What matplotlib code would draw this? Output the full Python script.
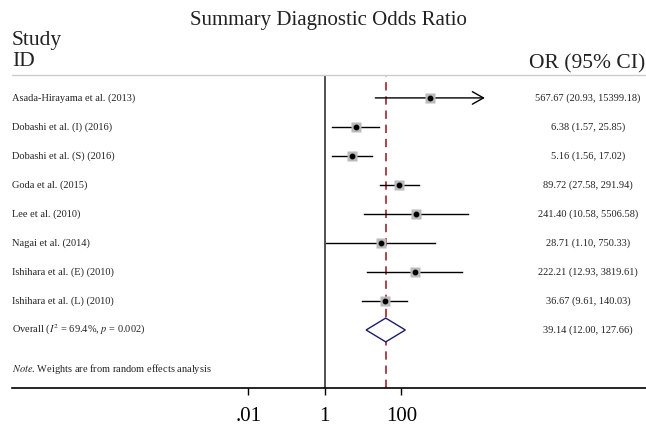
import numpy as np
import matplotlib.pyplot as plt

plt.rcParams['font.family'] = ['Liberation Serif', 'DejaVu Serif']
plt.rcParams['mathtext.fontset'] = 'stix'

studies = ["Asada-Hirayama et al. (2013)", "Dobashi et al. (I) (2016)",
           "Dobashi et al. (S) (2016)", "Goda et al. (2015)", "Lee et al. (2010)",
           "Nagai et al. (2014)", "Ishihara et al. (E) (2010)",
           "Ishihara et al. (L) (2010)"]
odds = [567.67, 6.38, 5.16, 89.72, 241.40, 28.71, 222.21, 36.67]
lower = [20.93, 1.57, 1.56, 27.58, 10.58, 1.10, 12.93, 9.61]
upper = [15399.18, 25.85, 17.02, 291.94, 5506.58, 750.33, 3819.61, 140.03]
pooled = 39.14
pooled_ci = (12.00, 127.66)
tick_vals = [0.01, 1, 100]
tick_labels = [".01", "1", "100"]

fig = plt.figure(figsize=(6.46, 4.25), dpi=100)
ax = fig.add_axes([12 / 646, 37 / 425, 634 / 646, 313 / 425])
ax.set_xscale('log')
ax.set_xlim(np.exp(-18.85), np.exp(19.35))
ax.set_ylim(10.0, -0.79)

# column of OR text, in axes fraction
col_x = (588 - 12) / 634

rows = np.arange(len(studies))
ax.axvline(1, color='#333333', lw=1.2, zorder=1)
ax.axvline(pooled, color='#a3232b', lw=1.2, ls=(0, (5, 3.5)), zorder=1)

for y, name, o, lo, hi in zip(rows, studies, odds, lower, upper):
    if hi > 10000:
        ax.annotate("", xy=(hi, y), xytext=(lo, y),
                    arrowprops=dict(arrowstyle='->,head_length=0.8,head_width=0.45',
                                    color='black', lw=1.0, shrinkA=0, shrinkB=0))
    else:
        ax.plot([lo, hi], [y, y], color='black', lw=1.0, zorder=2)
    ax.plot(o, y, marker='s', ms=7.5, color='#bababa', mec='none', zorder=3)
    ax.plot(o, y, marker='o', ms=3.2, color='black', zorder=4)
    ax.text(0.0, y, name, transform=ax.get_yaxis_transform(), fontsize=7.5,
            va='center', ha='left', color='#222222')
    ax.text(col_x, y, f"{o:.2f} ({lo:.2f}, {hi:.2f})",
            transform=ax.get_yaxis_transform(), fontsize=7.5, va='center',
            ha='center', color='#222222')

# pooled estimate diamond
yo = len(studies)
lo, hi = pooled_ci
ax.fill([lo, pooled, hi, pooled, lo], [yo, yo - 0.41, yo, yo + 0.41, yo],
        facecolor='white', edgecolor='#1c1c6b', lw=1.0, zorder=3)
ax.text(0.0, yo, r"Overall ($I^2$ = 69.4%, $p$ = 0.002)",
        transform=ax.get_yaxis_transform(), fontsize=7.5, va='center',
        ha='left', color='#222222')
ax.text(col_x, yo, f"{pooled:.2f} ({lo:.2f}, {hi:.2f})",
        transform=ax.get_yaxis_transform(), fontsize=7.5, va='center',
        ha='center', color='#222222')
ax.text(0.0, 9.34, r"$\it{Note}$. Weights are from random effects analysis",
        transform=ax.get_yaxis_transform(), fontsize=7.5, va='center',
        ha='left', color='#222222')

ax.set_yticks([])
ax.set_xticks(tick_vals)
ax.set_xticklabels(tick_labels, fontsize=15)
ax.minorticks_off()
ax.tick_params(axis='x', length=5, width=1.0, pad=9)
for s in ['left', 'right']:
    ax.spines[s].set_visible(False)
ax.spines['bottom'].set_linewidth(1.2)
ax.spines['top'].set_color('#cccccc')
ax.spines['top'].set_linewidth(1.0)

fig.text(328 / 646, 1 - 25 / 425, "Summary Diagnostic Odds Ratio", fontsize=15,
         ha='center', va='baseline', color='#222222')
fig.text(12 / 646, 1 - 45 / 425, "Study", fontsize=15.5, ha='left',
         va='baseline', color='#222222')
fig.text(12 / 646, 1 - 66 / 425, "ID", fontsize=15.5, ha='left',
         va='baseline', color='#222222')
fig.text(645 / 646, 1 - 68 / 425, "OR (95% CI)", fontsize=15.5, ha='right',
         va='baseline', color='#222222')

fig.savefig("out.png", dpi=100)
